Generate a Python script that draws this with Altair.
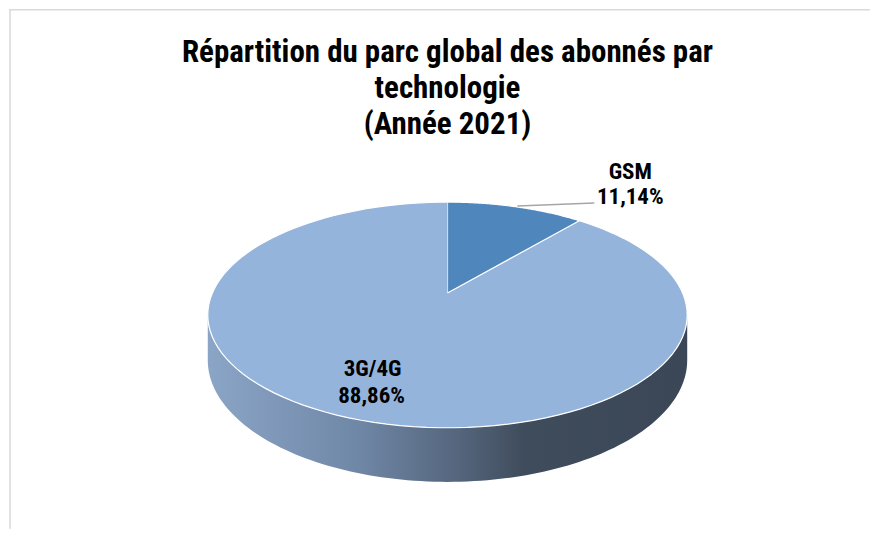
import altair as alt
import pandas as pd

# ---- data ----
categories = ["GSM", "3G/4G"]
shares = [11.14, 88.86]
top_colors = ["#4f86bc", "#95b4db"]
title_lines = ["Répartition du parc global des abonnés par", "technologie", "(Année 2021)"]

# ---- layout / style constants (view pixels) ----
W, H = 862, 521
OFF = 8  # page margin
CX, CY = 447 - OFF, 293 - OFF          # projected pie centre
A, B, K, D = 235.4, 108.7, 0.1947, 43.6  # perspective ellipse parameters
N = 120
FONT = "Roboto Condensed, Arial Narrow, Liberation Sans, Arial"

labels = [f"{v:.2f}".replace(".", ",") + "%" for v in shares]

slices = pd.DataFrame({
    "category": categories,
    "share": shares,
    "color": top_colors,
    "label": labels,
    "steps": [list(range(-1, N + 1))] * len(categories),
})

side = pd.DataFrame({"steps": [list(range(0, 2 * N + 2))]})
title_df = pd.DataFrame({"text": ["\n".join(title_lines)]})

xs = alt.Scale(domain=[0, W], nice=False, zero=False)
ys = alt.Scale(domain=[0, H], nice=False, zero=False, reverse=True)
X = alt.X("x:Q", scale=xs, axis=None)
Y = alt.Y("y:Q", scale=ys, axis=None)

proj_x = f"{CX} + {A} * sin(datum.th) / (1 + {K} * cos(datum.th))"
proj_y_top = f"{CY} - {B} * cos(datum.th) / (1 + {K} * cos(datum.th))"
proj_y_low = f"{CY} + (-{B} * cos(datum.th) + {D}) / (1 + {K} * cos(datum.th))"

# side wall (front half of the cylinder between silhouettes)
ths = f"acos(-{K})"
the = f"(2 * PI - acos(-{K}))"
side_chart = (
    alt.Chart(side)
    .transform_flatten(["steps"], as_=["i"])
    .transform_calculate(
        th=f"datum.i <= {N} ? {ths} + ({the} - {ths}) * datum.i / {N} : {the} - ({the} - {ths}) * (datum.i - {N} - 1) / {N}"
    )
    .transform_calculate(
        x=proj_x,
        y=f"datum.i <= {N} ? {proj_y_top} : {proj_y_low}",
    )
    .mark_line(
        strokeWidth=0,
        fill=alt.Gradient(
            gradient="linear",
            x1=0, x2=1, y1=0, y2=0,
            stops=[
                alt.GradientStop(color="#8ba5c6", offset=0),
                alt.GradientStop(color="#7189a9", offset=0.3),
                alt.GradientStop(color="#55667d", offset=0.52),
                alt.GradientStop(color="#3f4c5c", offset=0.66),
                alt.GradientStop(color="#3b4757", offset=1),
            ],
        ),
    )
    .encode(x=X, y=Y, order=alt.Order("i:Q"))
)

# top face slices
top_chart = (
    alt.Chart(slices)
    .transform_joinaggregate(total="sum(share)")
    .transform_window(cum="sum(share)", frame=[None, 0])
    .transform_calculate(start="datum.cum - datum.share")
    .transform_flatten(["steps"], as_=["i"])
    .transform_calculate(th=f"2 * PI * (datum.start + datum.share * max(datum.i, 0) / {N}) / datum.total")
    .transform_calculate(
        x=f"datum.i < 0 ? {CX} : {proj_x}",
        y=f"datum.i < 0 ? {CY} : {proj_y_top}",
    )
    .mark_line(strokeWidth=1.2, stroke="white", strokeJoin="round")
    .encode(
        x=X, y=Y,
        fill=alt.Fill("color:N", scale=None),
        detail="category:N",
        order=alt.Order("i:Q"),
    )
)

# leader line for GSM
leader = alt.Chart(slices).mark_rule(color="#a6a6a6", strokeWidth=1.5).encode(
    x=alt.value(517 - OFF), x2=alt.value(594 - OFF),
    y=alt.value(206 - OFF), y2=alt.value(203 - OFF),
).transform_filter("datum.category == 'GSM'")


def label_layer(cat, x1, y1, x2, y2):
    base = alt.Chart(slices).transform_filter(f"datum.category == '{cat}'")
    t1 = base.mark_text(font=FONT, fontSize=23, fontWeight="bold", color="black").encode(
        x=alt.value(x1 - OFF), y=alt.value(y1 - OFF), text="category:N")
    t2 = base.mark_text(font=FONT, fontSize=23, fontWeight="bold", color="black").encode(
        x=alt.value(x2 - OFF), y=alt.value(y2 - OFF), text="label:N")
    return t1 + t2


title = alt.Chart(title_df).mark_text(
    font=FONT, fontSize=31, fontWeight="bold", color="black",
    lineBreak="\n", lineHeight=36, baseline="alphabetic", align="center",
).encode(x=alt.value(447 - OFF), y=alt.value(62 - OFF), text="text:N")

border_top = alt.Chart(title_df).mark_rule(color="#d9d9d9", strokeWidth=1.5).encode(
    x=alt.value(0), x2=alt.value(W), y=alt.value(1.5), y2=alt.value(1.5))
border_left = alt.Chart(title_df).mark_rule(color="#d9d9d9", strokeWidth=1.5).encode(
    x=alt.value(1), x2=alt.value(1), y=alt.value(1.5), y2=alt.value(H))

chart = alt.layer(
    border_top, border_left, side_chart, top_chart, leader,
    label_layer("GSM", 630, 172, 630, 197), label_layer("3G/4G", 372, 369, 371, 396),
    title,
).properties(width=W, height=H, padding=0, background="white").configure_view(strokeWidth=0)

chart.save("out.html", embed_options={"renderer": "svg", "actions": False})
